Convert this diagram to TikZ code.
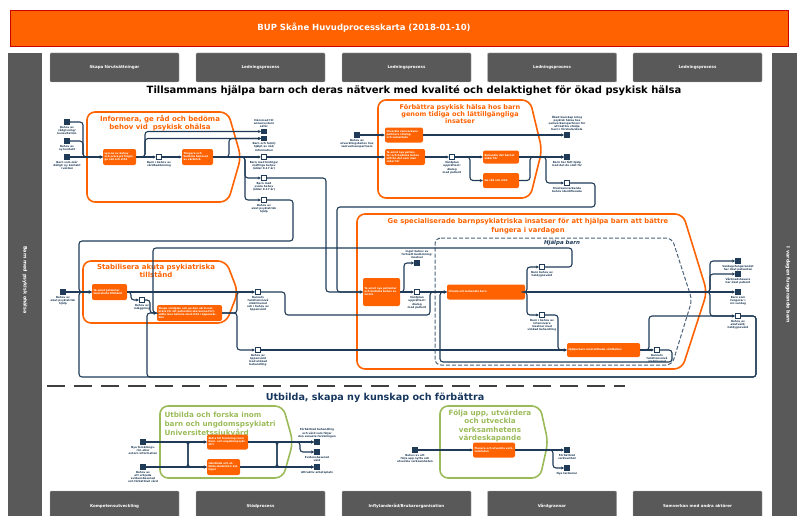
\documentclass[tikz,border=0pt]{standalone}
\usepackage{fontspec}
\setmainfont{DejaVu Sans}
\usetikzlibrary{arrows.meta,positioning}
\definecolor{bor}{HTML}{FF6200}
\definecolor{bgray}{HTML}{595959}
\definecolor{bline}{HTML}{1F3B57}
\definecolor{bgreen}{HTML}{9BBB59}
\definecolor{bblue}{HTML}{17375E}
\tikzset{
 flow/.style={draw=bline, line width=1.1pt, rounded corners=3pt},
 arr/.style={flow, -{Stealth[length=3pt,width=3pt]}},
 task/.style={fill=bor, rounded corners=2pt, text=white, font=\fontsize{2.6}{3.0}\selectfont\bfseries, align=left, inner sep=1.5pt},
 sev/.style={fill=bline, minimum size=5.5pt, inner sep=0pt},
 iev/.style={fill=white, draw=bline, line width=0.8pt, minimum size=5.5pt, inner sep=0pt},
 lbl/.style={font=\fontsize{2.7}{3.1}\selectfont\bfseries, text=bline, align=center, inner sep=0.3pt},
 gbox/.style={fill=bgray, draw=gray!70, rounded corners=1pt, text=white, font=\fontsize{4}{5}\selectfont\bfseries},
 ogrp/.style={draw=bor, line width=1.6pt, rounded corners=8pt},
 ggrp/.style={draw=bgreen, line width=1.6pt, rounded corners=8pt},
 otitle/.style={text=bor, font=\fontsize{7}{8}\selectfont\bfseries, align=center},
 gtitle/.style={text=bgreen, font=\fontsize{7.2}{9}\selectfont\bfseries},
}
\begin{document}
\begin{tikzpicture}[x=1pt,y=-1pt]
\useasboundingbox (0,0) rectangle (797,516);
% header
\node[fill=bor, draw=red!80!black, line width=0.5pt, minimum width=778pt, minimum height=36pt, inner sep=0pt] (hdr) at (399,28) {};
\node[text=white, font=\fontsize{8.5}{10}\selectfont\bfseries] (hdrt) at (364,28) {BUP Skåne Huvudprocesskarta (2018-01-10)};
% side bars
\fill[bgray] (8,53) rectangle (42,516);
\fill[bgray] (772,53) rectangle (797,516);
\node[rotate=-90, text=white, font=\fontsize{4.8}{6}\selectfont\bfseries] (lside) at (25,280) {Barn med psykisk ohälsa};
\node[rotate=-90, text=white, font=\fontsize{4.8}{6}\selectfont\bfseries] (rside) at (788,285) {I vardagen fungerande barn};
% top gray boxes
\node[gbox, minimum width=129pt, minimum height=29pt] (tb1) at (114.5,67.5) {Skapa förutsättningar};
\node[gbox, minimum width=129pt, minimum height=29pt] (tb2) at (260.5,67.5) {Ledningsprocess};
\node[gbox, minimum width=129pt, minimum height=29pt] (tb3) at (406.5,67.5) {Ledningsprocess};
\node[gbox, minimum width=129pt, minimum height=29pt] (tb4) at (552,67.5) {Ledningsprocess};
\node[gbox, minimum width=129pt, minimum height=29pt] (tb5) at (697.5,67.5) {Ledningsprocess};
% bottom gray boxes
\node[gbox, minimum width=129pt, minimum height=30pt] (bb1) at (114.5,506) {Kompetensutveckling};
\node[gbox, minimum width=129pt, minimum height=30pt] (bb2) at (260.5,506) {Stödprocess};
\node[gbox, minimum width=129pt, minimum height=30pt] (bb3) at (406.5,506) {Inflytanderåd/Brukarorganisation};
\node[gbox, minimum width=129pt, minimum height=30pt] (bb4) at (552,506) {Vårdgrannar};
\node[gbox, minimum width=129pt, minimum height=30pt] (bb5) at (697.5,506) {Samverkan med andra aktörer};
% main title
\node[font=\fontsize{10}{12}\selectfont\bfseries] (mtitle) at (414,91) {Tillsammans hjälpa barn och deras nätverk med kvalité och delaktighet för ökad psykisk hälsa};
% group outlines
\draw[ogrp] (87,112) -- (228,112) -- (241,157) -- (228,202) -- (87,202) -- cycle;
\draw[ogrp] (378,100) -- (530,100) -- (542,150) -- (530,198) -- (378,198) -- cycle;
\draw[ogrp] (83,261) -- (226,261) -- (238,292) -- (226,323) -- (83,323) -- cycle;
\draw[ogrp] (357,214) -- (683,214) -- (707,292) -- (682,369) -- (357,369) -- cycle;
\draw[draw=bline!80, line width=1pt, dash pattern=on 4pt off 2pt, rounded corners=6pt] (435,238) -- (672,238) -- (692,300) -- (672,365) -- (435,365) -- cycle;
\draw[ggrp] (160,406) -- (283,406) -- (293,442) -- (283,478) -- (160,478) -- cycle;
\draw[ggrp] (440,406) -- (540,406) -- (548,442) -- (540,478) -- (440,478) -- cycle;
% group titles
\node[otitle] (tInf) at (160,123) {Informera, ge råd och bedöma\\behov vid \ psykisk ohälsa};
\node[otitle, font=\fontsize{6.5}{7.3}\selectfont\bfseries] (tFor) at (460,114) {Förbättra psykisk hälsa hos barn\\genom tidiga och lättillgängliga\\insatser};
\node[otitle] (tSta) at (156,271) {Stabilisera akuta psykiatriska\\tillstånd};
\node[otitle, font=\fontsize{6.8}{8.5}\selectfont\bfseries] (tGe) at (528,226) {Ge specialiserade barnpsykiatriska insatser för att hjälpa barn att bättre\\fungera i vardagen};
\node[text=bline, font=\fontsize{5.5}{6}\selectfont\bfseries\itshape] (tHj) at (562,243) {Hjälpa barn};
\node[gtitle, align=left, anchor=north west] (tUtb) at (161,408) {Utbilda och forska inom\\barn och ungdomspsykiatri\\Universitetssjukvård};
\node[gtitle, align=center, font=\fontsize{7.2}{8.3}\selectfont\bfseries] (tFol) at (490,426) {Följa upp, utvärdera\\och utveckla\\verksamhetens\\värdeskapande};
% separator and section title
\draw[draw=black!75, line width=1.3pt, dash pattern=on 17.5pt off 9.5pt] (47,386) -- (625,386);
\node[text=bblue, font=\fontsize{9.6}{11}\selectfont\bfseries] (stitle) at (375,398) {Utbilda, skapa ny kunskap och förbättra};

% ---------- Informera nodes
\node[sev] (a1) at (67,122) {};
\node[lbl, below=0.8pt of a1] (la1) {Behov av\\rådgivning/\\konsultation};
\node[sev] (a2) at (67,141) {};
\node[lbl, below=0.8pt of a2] (la2) {Behov av\\ny kontakt};
\node[sev] (a3) at (67,157) {};
\node[lbl, below=0.8pt of a3] (la3) {Barn som mår\\dåligt/ ny kontakt\\i vården};
\node[task, minimum width=33pt, minimum height=16pt, text width=30pt] (T1) at (119.5,157) {Lyssna av behov och svara på frågor, ge råd och stöd};
\node[iev] (i1) at (159,157) {};
\node[lbl, below=0.8pt of i1] (li1) {Barn i behov av\\vårdbedömning};
\node[task, minimum width=31pt, minimum height=16pt, text width=28pt] (T2) at (197.5,157) {Triagera och bedöma behovet av vårdnivå};
\node[sev] (e1) at (264,131.5) {};
\node[lbl, above=0.8pt of e1] (le1) {Hänvisad till\\annan/extern\\aktör};
\node[sev] (e2) at (264,138.5) {};
\node[lbl, below=0.8pt of e2] (le2) {Barn och familj\\hjälpt av råd/\\information};
\node[iev] (i2) at (264,157) {};
\node[lbl, below=0.8pt of i2] (li2) {Barn med lindriga/\\måttliga behov\\(ålder 0-17 år)};
\node[iev] (i3) at (264,178) {};
\node[lbl, below=0.8pt of i3] (li3) {Barn med\\svåra behov\\(ålder 0-17 år)};
\node[iev] (i4) at (264,200) {};
\node[lbl, below=0.8pt of i4] (li4) {Behov av\\akut psykiatrisk\\hjälp};

% ---------- Förbättra nodes
\node[sev] (b0) at (357,135) {};
\node[lbl, below=0.8pt of b0] (lb0) {Behov av\\utvecklingsbehov hos\\samverkanspartners};
\node[task, minimum width=38pt, minimum height=15pt, text width=35pt] (F1) at (404,135) {Utveckla samverkans-\\partners i dialog\\och samarbete};
\node[task, minimum width=40pt, minimum height=16pt, text width=37pt] (F2) at (405,157) {Ta emot nya patienter och bedöma behov utifrån det som man söker för};
\node[iev] (b1) at (452,157) {};
\node[lbl, below=0.8pt of b1] (lb1) {Vårdplan\\upprättad i\\dialog\\med patient};
\node[task, minimum width=36pt, minimum height=13pt, text width=33pt] (F3) at (501,157) {Behandla det barnet söker för};
\node[task, minimum width=36pt, minimum height=15pt, text width=33pt] (F4) at (501,180.5) {Ge råd och stöd};
\node[sev] (b2) at (567,135) {};
\node[lbl, above=0.8pt of b2] (lb2) {Ökad kunskap kring\\psykisk hälsa hos\\samverkanspartners för\\att bättre stödja\\barn i förskola/skola};
\node[sev] (b3) at (567,157) {};
\node[lbl, below=0.8pt of b3] (lb3) {Barn har fått hjälp\\med det de sökt för};
\node[iev] (b4) at (567,183) {};
\node[lbl, below=0.8pt of b4] (lb4) {Stöd/samverkande\\behov identifierade};

% ---------- Stabilisera nodes
\node[sev] (c0) at (63,292) {};
\node[lbl, below=0.8pt of c0] (lc0) {Behov av\\akut psykiatrisk\\hjälp};
\node[task, minimum width=35pt, minimum height=16pt, text width=32pt] (S1) at (109.5,292) {Ta emot patienter med akuta tillstånd};
\node[iev] (c1) at (142,300) {};
\node[lbl, below=0.8pt of c1] (lc1) {Behov av\\inläggning};
\node[task, minimum width=65pt, minimum height=16pt, text width=62pt] (S2) at (189.5,313) {Skapa vårdplan och ge den vård som krävs för att patienten ska kunna fortsätta leva hemma med stöd i öppenvården};
\node[iev] (d1) at (258,292) {};
\node[lbl, below=0.8pt of d1] (ld1) {Barnets\\funktionsnivå\\stabiliserad\\och i behov av\\öppenvård};
\node[iev] (d2) at (258,350) {};
\node[lbl, below=0.8pt of d2] (ld2) {Behov av\\öppenvård\\med utökad\\behandling};

% ---------- Ge nodes
\node[task, minimum width=37pt, minimum height=28pt, text width=34pt] (G1) at (381.5,292) {Ta emot nya patienter och bedöma behov av insats};
\node[sev] (g0) at (417,263) {};
\node[lbl, above=0.8pt of g0] (lg0) {Inget behov av\\fortsatt bedömning/\\insatser};
\node[iev] (g1) at (417,292) {};
\node[lbl, below=0.8pt of g1] (lg1) {Vårdplan\\upprättad i\\dialog\\med patient};
\node[task, minimum width=78pt, minimum height=15pt, text width=75pt] (G2) at (486,292) {Utreda och behandla barn};
\node[iev] (g2) at (542,267) {};
\node[lbl, below=0.8pt of g2] (lg2) {Barn behov av\\heldygnsvård};
\node[iev] (g3) at (542,315) {};
\node[lbl, below=0.8pt of g3] (lg3) {Barn i behov av\\intensivare\\insatser med\\utökad behandling};
\node[task, minimum width=73pt, minimum height=14pt, text width=70pt] (G3) at (603.5,350) {Hjälpa barn med utökade vårdbehov};
\node[iev] (g4) at (657,350) {};
\node[lbl, below=0.8pt of g4] (lg4) {Barnets\\funktionsnivå\\stabiliserad};
\node[sev] (r1) at (738,261) {};
\node[lbl, below=0.8pt of r1] (lr1) {Vardagsfungerandet\\har ökat patienten};
\node[sev] (r2) at (738,274) {};
\node[lbl, below=0.8pt of r2] (lr2) {Vårdnadshavare\\har ökat patient};
\node[sev] (r3) at (738,292) {};
\node[lbl, below=0.8pt of r3] (lr3) {Barn som\\fungerar i\\sin vardag};
\node[iev] (r4) at (738,316) {};
\node[lbl, below=0.8pt of r4] (lr4) {Behov av\\akutvård/\\heldygnsvård};

% ---------- Utbilda nodes
\node[sev] (u0) at (143,442) {};
\node[lbl, below=0.8pt of u0] (lu0) {Nya forsknings-\\rön eller\\extern information};
\node[sev] (u1) at (143,467) {};
\node[lbl, below=0.8pt of u1] (lu1) {Behov av\\att erbjuda\\evidensbaserad\\och förbättrad vård};
\node[task, minimum width=41pt, minimum height=15pt, text width=38pt] (U1) at (227.5,442) {Bidra till forskning inom barn- och ungdomspsykiatri};
\node[task, minimum width=33pt, minimum height=16pt, text width=30pt] (U2) at (223.5,467) {Handleda och utbilda studenter/ kollegor};
\node[sev] (u2) at (317,442) {};
\node[lbl, above=0.8pt of u2] (lu2) {Förbättrad behandling\\och vård som följer\\den senaste forskningen};
\node[sev] (u3) at (317,452) {};
\node[lbl, below=0.8pt of u3] (lu3) {Evidensbaserad\\vård};
\node[sev] (u4) at (317,467) {};
\node[lbl, below=0.8pt of u4] (lu4) {Attraktiv arbetsplats};

% ---------- Följa nodes
\node[sev] (v0) at (415,450) {};
\node[lbl, below=0.8pt of v0] (lv0) {Behov av att\\följa upp nytta och\\utveckla verksamheten};
\node[task, minimum width=42pt, minimum height=15pt, text width=39pt] (P1) at (494,450) {Planera och utveckla verksamheten};
\node[sev] (v1) at (567,450) {};
\node[lbl, below=0.8pt of v1] (lv1) {Förbättrad\\verksamhet};
\node[sev] (v2) at (567,468) {};
\node[lbl, below=0.8pt of v2] (lv2) {Nya lärdomar};

% ---------- connectors
\begin{scope}[on background layer/.style={}]
\draw[arr] (a1.east) -| (83,157) -- (T1.west);
\draw[arr] (a2.east) -| (83,157) -- (T1.west);
\draw[arr] (a3) -- (T1);
\draw[arr] (T1) -- (i1);
\draw[arr] (T1.east) -| (145,131.5) -- (e1.west);
\draw[arr] (T1.east) -| (145,138.5) -- (e2.west);
\draw[arr] (i1) -- (T2);
\draw[arr] (T2) -- (i2);
\draw[arr] (T2.east) -| (229,138.5) -- (e2.west);
\draw[arr] (T2.east) -| (245,178) -- (i3.west);
\draw[arr] (T2.east) -| (245,200) -- (i4.west);
\draw[arr] (i2) -- (F2);
\draw[arr] (i3.east) -| (326,292) -- (G1.west);
\draw[arr] (i4.east) -| (293,241) -| (79,292) -- (S1.west);
\draw[arr] (b4.east) -| (595,207) -| (337,292) -- (G1.west);
\draw[arr] (b0) -- (F1);
\draw[arr] (F1) -- (b2);
\draw[arr] (F2) -- (b1);
\draw[arr] (b1) -- (F3);
\draw[arr] (b1.east) -| (470,180.5) -- (F4.west);
\draw[arr] (F3) -- (b3);
\draw[arr] (F4.east) -| (530,157) -- (b3.west);
\draw[arr] (F3.east) -| (546,183) -- (b4.west);
\draw[arr] (c0) -- (S1);
\draw[arr] (S1) -- (d1);
\draw[arr] (S1.east) -| (131,300) -- (c1.west);
\draw[arr] (c1.east) -| (150,313) -- (S2.west);
\draw[arr] (S2.east) -| (237,292) -- (d1.west);
\draw[arr] (S2.east) -| (237,350) -- (d2.west);
\draw[arr] (d1.east) -| (285,315) -| (430,292) -- (G2.west);
\draw[arr] (d2) -- (G3);
\draw[arr] (G1.east) -| (404,263) -- (g0.west);
\draw[arr] (G1) -- (g1);
\draw[arr] (g1) -- (G2);
\draw[arr] (G2) -- (r3);
\draw[arr] (G2.east) -| (527,267) -- (g2.west);
\draw[arr] (G2.east) -| (527,315) -- (g3.west);
\draw[arr] (g2.east) -| (572,248) -| (153,313) -- (S2.west);
\draw[arr] (g3.east) -| (558,350) -- (G3.west);
\draw[arr] (G3) -- (g4);
\draw[arr] (G3.east) -| (649,316) -- (r4.west);
\draw[arr] (g4.east) -| (672,362) -| (440,292) -- (G2.west);
\draw[arr] (G2.east) -| (710,261) -- (r1.west);
\draw[arr] (G2.east) -| (710,274) -- (r2.west);
\draw[arr] (G2.east) -| (710,316) -- (r4.west);
\draw[arr] (r4.east) -| (756,377) -| (79,292) -- (S1.west);
\draw[arr] (r4.east) -| (756,377) -| (147,313) -- (S2.west);
\draw[arr] (u0) -- (U1);
\draw[arr] (u0.east) -| (188,467) -- (U2.west);
\draw[arr] (u1) -- (U2);
\draw[arr] (u1.east) -| (188,442) -- (U1.west);
\draw[arr] (U1) -- (u2);
\draw[arr] (U1.east) -| (300,452) -- (u3.west);
\draw[arr] (U1.east) -| (277,467) -- (u4.west);
\draw[arr] (U2) -- (u4);
\draw[arr] (U2.east) -| (277,442) -- (u2.west);
\draw[arr] (v0) -- (P1);
\draw[arr] (P1) -- (v1);
\draw[arr] (P1.east) -| (553,468) -- (v2.west);
\end{scope}
\end{tikzpicture}
\end{document}
